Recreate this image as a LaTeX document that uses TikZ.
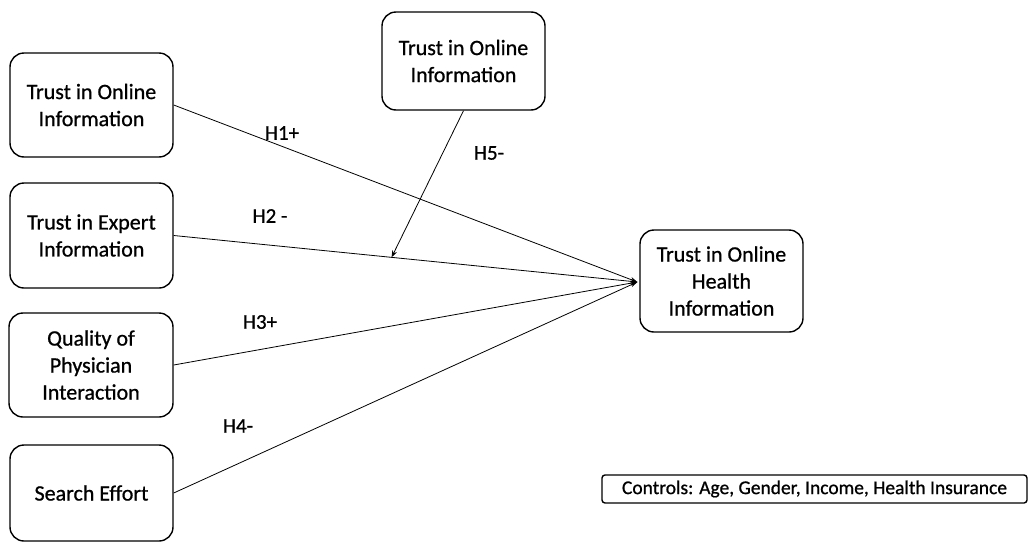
\documentclass[tikz,border=0pt]{standalone}
\usepackage{fontspec}
\setmainfont{Carlito}[FakeBold=0.8]
\usetikzlibrary{arrows.meta,calc}
\begin{document}
\begin{tikzpicture}[x=1pt,y=-1pt,
  box/.style={draw=black,line width=1.4pt,rounded corners=14pt,align=center,inner sep=0pt,font=\fontsize{22}{27}\selectfont},
  conn/.style={line width=0.8pt,-{Stealth[length=7pt,width=5pt]}},
  lab/.style={font=\fontsize{21}{24}\selectfont}]
\useasboundingbox (0,0) rectangle (1029,544);
\node[box,minimum width=163pt,minimum height=104pt] (A) at (91.5,105) {Trust in Online\\Information};
\node[box,minimum width=163pt,minimum height=105pt] (B) at (91.5,235.5) {Trust in Expert\\Information};
\node[box,minimum width=164pt,minimum height=104pt] (C) at (91,365) {Quality of\\Physician\\Interaction};
\node[box,minimum width=163pt,minimum height=96pt] (D) at (91.5,493) {Search Effort};
\node[box,minimum width=163pt,minimum height=98pt] (T) at (463.5,61) {Trust in Online\\Information};
\node[box,minimum width=163pt,minimum height=102pt] (R) at (721.5,281) {Trust in Online\\Health\\Information};
\node[draw=black,line width=1.4pt,rounded corners=3pt,minimum width=425pt,minimum height=28pt,inner sep=0pt,font=\fontsize{19.5}{22}\selectfont] (K) at (814.5,489) {Controls: Age, Gender, Income, Health Insurance};
\coordinate (E) at ($(R.west)+(-2,1)$);
\draw[conn] (A.east) -- (E);
\draw[conn] (B.east) -- (E);
\draw[conn] (C.east) -- (E);
\draw[conn] (D.east) -- (E);
\coordinate (M) at ($(B.east)!0.47!(E)$);
\draw[conn] (T.south) -- (M);
\node[lab] (h1) at (282,133) {H1+};
\node[lab] (h2) at (270,216) {H2 -};
\node[lab] (h3) at (260,322) {H3+};
\node[lab] (h4) at (238,426) {H4-};
\node[lab] (h5) at (489,153) {H5-};
\end{tikzpicture}
\end{document}
